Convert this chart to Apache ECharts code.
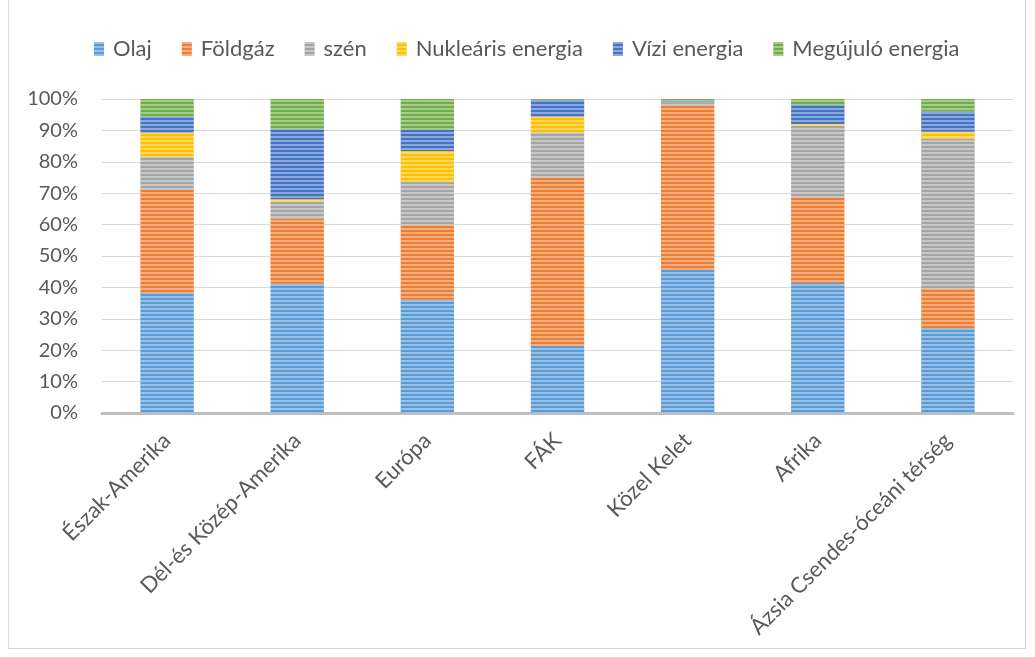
<!DOCTYPE html>
<html>
<head>
<meta charset="utf-8">
<script src="https://cdn.jsdelivr.net/npm/echarts@6/dist/echarts.min.js"></script>
<style>
html,body{margin:0;padding:0;background:#fff;}
#frame{position:absolute;left:8px;top:-1px;width:1018px;height:650px;border:1px solid #d9d9d9;box-sizing:border-box;}
#chart{position:absolute;left:0;top:0;width:1035px;height:657px;}
</style>
</head>
<body>
<div id="frame"></div>
<div id="chart"></div>
<script>
const categories = ['Észak-Amerika','Dél-és Közép-Amerika','Európa','FÁK','Közel Kelet','Afrika','Ázsia Csendes-óceáni térség'];
const seriesNames = ['Olaj','Földgáz','szén','Nukleáris energia','Vízi energia','Megújuló energia'];
const olaj      = [38.2, 41.2, 36.1, 21.3, 45.6, 41.4, 27.1];
const foldgaz   = [32.8, 20.7, 23.7, 53.6, 52.2, 27.2, 12.5];
const szen      = [10.6,  5.3, 13.8, 14.5,  1.1, 22.9, 47.8];
const nuklearis = [ 7.7,  0.9,  9.8,  5.0,  0.1,  0.5,  2.2];
const vizi      = [ 5.1, 22.3,  6.7,  5.4,  0.5,  6.1,  6.4];
const megujulo  = [ 5.6,  9.6,  9.9,  0.2,  0.5,  1.9,  4.0];
const yTicks = ['0%','10%','20%','30%','40%','50%','60%','70%','80%','90%','100%'];
const values = [olaj, foldgaz, szen, nuklearis, vizi, megujulo];
const colors = ['#5B9BD5','#ED7D31','#A5A5A5','#FFC000','#4472C4','#70AD47'];

const chart = echarts.init(document.getElementById('chart'));
const decal = {
  symbol: 'rect', symbolSize: 1,
  dashArrayX: [1, 0], dashArrayY: [2, 2],
  color: 'rgba(255,255,255,0.38)', rotation: 0
};
chart.setOption({
  animation: false,
  color: colors,
  textStyle: {fontFamily: 'Lato'},
  legend: {
    top: 33, left: 89,
    itemWidth: 10, itemHeight: 14, itemGap: 30,
    icon: 'rect',
    textStyle: {fontSize: 22, color: '#595959', fontFamily: 'Lato', padding: [0,0,0,4]},
    data: seriesNames
  },
  grid: {left: 102, right: 22, top: 99, bottom: 244, containLabel: false},
  xAxis: {
    type: 'category', data: categories,
    axisLine: {lineStyle: {color: '#bfbfbf', width: 3}},
    axisTick: {show: false},
    axisLabel: {rotate: 45, fontSize: 22, color: '#595959', margin: 24, fontFamily: 'Lato', interval: 0}
  },
  yAxis: {
    type: 'value', min: 0, max: 100, interval: 10,
    axisLine: {show: false}, axisTick: {show: false},
    splitLine: {lineStyle: {color: '#d9d9d9', width: 1}},
    axisLabel: {fontSize: 20, color: '#595959', margin: 24, fontFamily: 'Lato',
      formatter: (v) => yTicks[Math.round(v/10)]}
  },
  series: seriesNames.map((n, i) => ({
    name: n, type: 'bar', stack: 'total',
    data: values[i],
    barCategoryGap: '59%',
    itemStyle: {color: colors[i], decal: decal}
  }))
});
</script>
</body>
</html>
